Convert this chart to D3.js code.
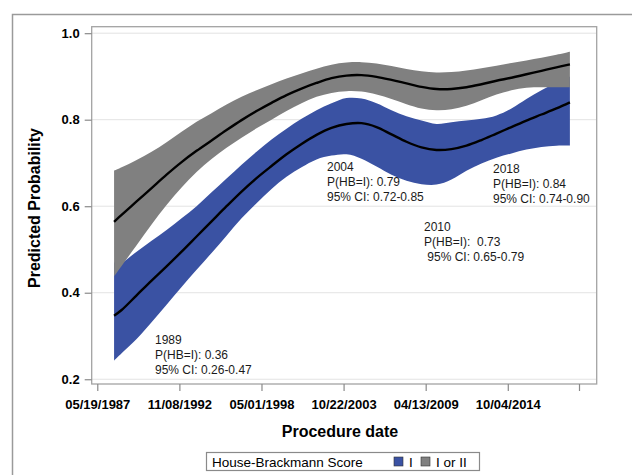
<!DOCTYPE html>
<html>
<head>
<meta charset="utf-8">
<script src="https://cdn.jsdelivr.net/npm/d3@7"></script>
<style>
  html, body { margin: 0; padding: 0; background: #fff; }
  svg { display: block; }
  text { font-family: "Liberation Sans", Arial, sans-serif; }
</style>
</head>
<body>
<svg id="chart" width="632" height="475"></svg>
<script>
// Sample dates for the fitted curves
const dates = [
  "1988-07-01","1989-01-01","1990-01-01","1991-01-01","1992-01-01","1993-01-01",
  "1994-01-01","1995-01-01","1996-01-01","1997-01-01","1998-01-01","1999-01-01",
  "2000-01-01","2001-01-01","2002-01-01","2003-01-01","2004-01-01","2005-01-01",
  "2006-01-01","2007-01-01","2008-01-01","2009-01-01","2010-01-01","2011-01-01",
  "2012-01-01","2013-01-01","2014-01-01","2015-01-01","2016-01-01","2017-01-01",
  "2018-01-01","2018-11-25"
];

// House-Brackmann I: predicted probability and 95% CI
const hbI      = [0.347,0.36,0.394,0.428,0.461,0.495,0.530,0.565,0.600,0.634,0.665,0.693,
                  0.720,0.744,0.765,0.781,0.79,0.792,0.783,0.766,0.749,0.736,0.73,0.732,
                  0.740,0.753,0.768,0.783,0.798,0.812,0.826,0.84];
const hbILow   = [0.243,0.26,0.293,0.332,0.372,0.413,0.453,0.492,0.532,0.572,0.607,0.64,
                  0.668,0.69,0.708,0.717,0.72,0.71,0.692,0.673,0.659,0.651,0.65,0.662,
                  0.682,0.699,0.712,0.722,0.731,0.737,0.74,0.74];
const hbIHigh  = [0.47,0.47,0.495,0.52,0.545,0.572,0.60,0.632,0.664,0.696,0.726,0.754,
                  0.779,0.802,0.822,0.838,0.85,0.849,0.838,0.822,0.808,0.798,0.79,0.794,
                  0.798,0.802,0.81,0.826,0.848,0.868,0.886,0.90];

// House-Brackmann I or II: predicted probability and 95% CI
const hbI2     = [0.564,0.58,0.611,0.642,0.673,0.702,0.728,0.752,0.776,0.799,0.82,0.839,
                  0.857,0.872,0.885,0.896,0.902,0.903,0.899,0.892,0.884,0.876,0.871,0.871,
                  0.875,0.882,0.89,0.897,0.905,0.913,0.921,0.928];
const hbI2Low  = [0.438,0.462,0.51,0.558,0.603,0.643,0.679,0.709,0.735,0.758,0.78,0.80,
                  0.82,0.838,0.853,0.862,0.866,0.865,0.858,0.848,0.836,0.826,0.822,0.824,
                  0.832,0.845,0.858,0.868,0.874,0.875,0.875,0.875];
const hbI2High = [0.682,0.69,0.707,0.726,0.748,0.772,0.795,0.815,0.835,0.853,0.868,0.882,
                  0.895,0.907,0.918,0.927,0.932,0.933,0.93,0.924,0.917,0.912,0.909,0.91,
                  0.914,0.919,0.925,0.931,0.937,0.943,0.95,0.957];

// Axis ticks
const xTickDates  = ["1987-05-19","1992-11-08","1998-05-01","2003-10-22","2009-04-13","2014-10-04","2019-07-05"];
const xTickLabels = ["05/19/1987","11/08/1992","05/01/1998","10/22/2003","04/13/2009","10/04/2014",""];
const yTicks      = [0.2, 0.4, 0.6, 0.8, 1.0];
const xDomain     = ["1987-01-03","2020-09-08"];
const yDomain     = [0.189, 1.015];

// Annotated years (label text, date of the point on the HB=I curve)
const noteYears = ["1989","2004","2010","2018"];
const noteDates = ["1989-01-01","2004-01-01","2010-01-01","2018-11-25"];

const legendTitle  = "House-Brackmann Score";
const seriesNames  = ["I", "I or II"];
const seriesColors = ["#3a52a3", "#808080"];

const parse = d3.timeParse("%Y-%m-%d");
const svg = d3.select("#chart");

const plot = { left: 91.7, top: 26.7, right: 596.7, bottom: 384 };

const x = d3.scaleTime().domain(xDomain.map(parse)).range([plot.left, plot.right]);
const y = d3.scaleLinear().domain(yDomain).range([plot.bottom, plot.top]);

// Outer frame (open to the right and bottom)
svg.append("path")
  .attr("d", `M12.5,475 L12.5,14.5 L632,14.5`)
  .attr("fill", "none").attr("stroke", "#9a9a9a").attr("stroke-width", 1.5);

// Grid lines
svg.append("g").selectAll("line").data(yTicks).join("line")
  .attr("x1", plot.left).attr("x2", plot.right)
  .attr("y1", d => y(d)).attr("y2", d => y(d))
  .attr("stroke", "#e3e3e3").attr("stroke-width", 1);

const rows = dates.map((d, i) => ({
  date: parse(d),
  a: hbI[i], aLo: hbILow[i], aHi: hbIHigh[i],
  b: hbI2[i], bLo: hbI2Low[i], bHi: hbI2High[i]
}));

const curve = d3.curveCatmullRom.alpha(0.5);

// HB = I confidence band
svg.append("path").datum(rows)
  .attr("fill", seriesColors[0])
  .attr("d", d3.area().curve(curve).x(d => x(d.date)).y0(d => y(d.aLo)).y1(d => y(d.aHi)));

// HB = I or II confidence band
svg.append("path").datum(rows)
  .attr("fill", seriesColors[1])
  .attr("d", d3.area().curve(curve).x(d => x(d.date)).y0(d => y(d.bLo)).y1(d => y(d.bHi)));

// Fitted lines
for (const key of ["a", "b"]) {
  svg.append("path").datum(rows)
    .attr("fill", "none").attr("stroke", "#000").attr("stroke-width", 2.4)
    .attr("d", d3.line().curve(curve).x(d => x(d.date)).y(d => y(d[key])));
}

// Plot frame
svg.append("rect")
  .attr("x", plot.left).attr("y", plot.top)
  .attr("width", plot.right - plot.left).attr("height", plot.bottom - plot.top)
  .attr("fill", "none").attr("stroke", "#a3a3a3").attr("stroke-width", 1.3);

// Y axis
const yAxis = svg.append("g")
  .attr("transform", `translate(${plot.left},0)`)
  .call(d3.axisLeft(y).tickValues(yTicks).tickFormat(d3.format(".1f")).tickSize(7).tickPadding(5));
yAxis.select(".domain").remove();
yAxis.selectAll(".tick line").attr("stroke", "#8a8a8a").attr("stroke-width", 1.2);
yAxis.selectAll(".tick text")
  .attr("fill", "#000").style("font-size", "13px").style("font-weight", "bold")
  .style("font-family", "'Liberation Sans', Arial, sans-serif");

// X axis
const xAxis = svg.append("g")
  .attr("transform", `translate(0,${plot.bottom})`)
  .call(d3.axisBottom(x).tickValues(xTickDates.map(parse))
    .tickFormat((d, i) => xTickLabels[i]).tickSize(7).tickPadding(9));
xAxis.select(".domain").remove();
xAxis.selectAll(".tick line").attr("stroke", "#8a8a8a").attr("stroke-width", 1.2);
xAxis.selectAll(".tick text")
  .attr("fill", "#000").style("font-size", "13px").style("font-weight", "bold")
  .style("font-family", "'Liberation Sans', Arial, sans-serif");

// Axis titles
svg.append("text")
  .attr("transform", "translate(40,208) rotate(-90)")
  .attr("text-anchor", "middle")
  .style("font-size", "16px").style("font-weight", "bold")
  .text("Predicted Probability");

svg.append("text")
  .attr("x", 340).attr("y", 437)
  .attr("text-anchor", "middle")
  .style("font-size", "16px").style("font-weight", "bold")
  .text("Procedure date");

// Annotations for HB = I
const fmt = d3.format(".2f");
const noteAnchors = [[155, 344], [327, 171], [424, 231], [493, 173]];
const notePad = [["", ""], ["", ""], [" ", " "], ["", ""]];
noteYears.forEach((yr, k) => {
  const i = dates.indexOf(noteDates[k]);
  const lines = [
    yr,
    `P(HB=I):${notePad[k][0]} ${fmt(hbI[i])}`,
    `${notePad[k][1]}95% CI: ${fmt(hbILow[i])}-${fmt(hbIHigh[i])}`
  ];
  const t = svg.append("text")
    .attr("x", noteAnchors[k][0]).attr("y", noteAnchors[k][1])
    .style("font-size", "12px").attr("fill", "#1a1a1a")
    .style("white-space", "pre");
  lines.forEach((s, j) => {
    t.append("tspan").attr("x", noteAnchors[k][0]).attr("dy", j === 0 ? 0 : 15.2).text(s);
  });
});

// Legend
const lg = svg.append("g");
lg.append("rect")
  .attr("x", 206.5).attr("y", 452.5).attr("width", 273).attr("height", 18)
  .attr("fill", "#fff").attr("stroke", "#8a8a8a").attr("stroke-width", 1.2);
lg.append("text").attr("x", 212).attr("y", 466.5)
  .style("font-size", "13.5px").attr("fill", "#000").text(legendTitle);
const swX = [394, 421];
const labX = [409, 436];
seriesNames.forEach((name, i) => {
  lg.append("rect")
    .attr("x", swX[i]).attr("y", 457).attr("width", 9).attr("height", 9)
    .attr("fill", seriesColors[i]).attr("stroke", "#333").attr("stroke-width", 0.6);
  lg.append("text").attr("x", labX[i]).attr("y", 466.5)
    .style("font-size", "13.5px").attr("fill", "#000").text(name);
});
</script>
</body>
</html>
